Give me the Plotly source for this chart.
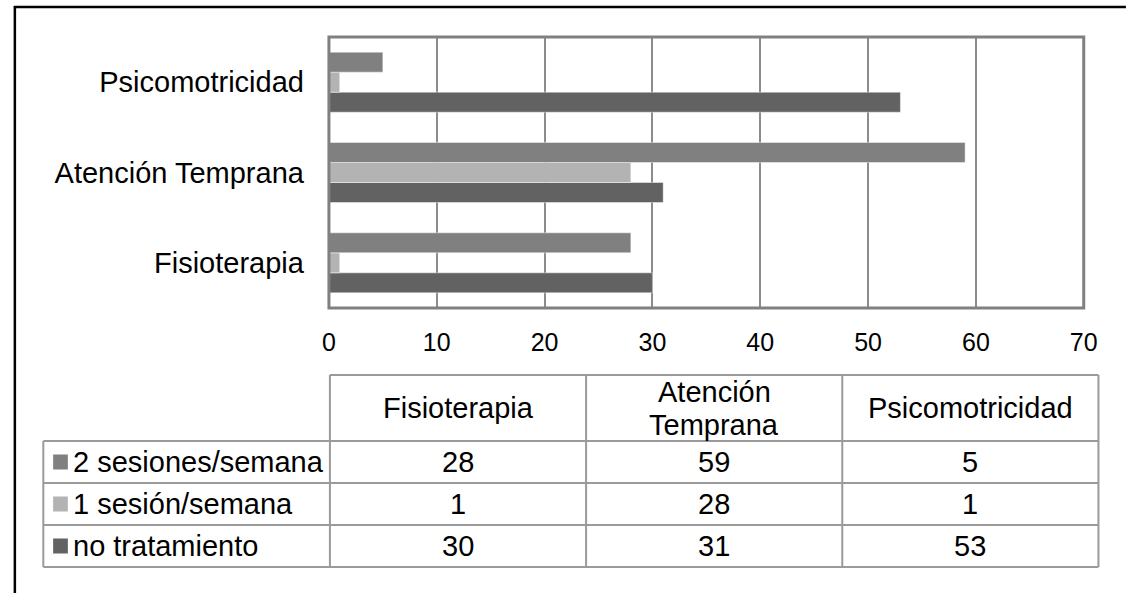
import plotly.graph_objects as go

# Data
categories = ["Fisioterapia", "Atención Temprana", "Psicomotricidad"]
header_labels = ["Fisioterapia", "Atención<br>Temprana", "Psicomotricidad"]
series_names = ["2 sesiones/semana", "1 sesión/semana", "no tratamiento"]
dos_sesiones = [28, 59, 5]
una_sesion = [1, 28, 1]
no_tratamiento = [30, 31, 53]
series_values = [dos_sesiones, una_sesion, no_tratamiento]
series_colors = ["#808080", "#b3b3b3", "#626262"]
x_ticks = [0, 10, 20, 30, 40, 50, 60, 70]

W, H = 1136, 593
FONT = "Liberation Sans, Arial, sans-serif"


def fx(p):
    return p / W


def fy(p):
    return 1 - p / H


fig = go.Figure()

# Bars drawn bottom-up inside each group so the order reads
# 2 sesiones / 1 sesión / no tratamiento from top to bottom.
for name, vals, col in reversed(list(zip(series_names, series_values, series_colors))):
    fig.add_trace(go.Bar(
        y=categories, x=vals, name=name, orientation="h",
        marker=dict(color=col, line=dict(color="rgba(255,255,255,0.45)", width=1)),
        showlegend=False, hoverinfo="x+name",
    ))

shapes = []
annotations = []

# plot frame
shapes.append(dict(type="rect", xref="x domain", yref="y domain", x0=0, x1=1, y0=0, y1=1,
                   line=dict(color="#808080", width=3), layer="above"))

# outer chart border (left and top edges)
shapes.append(dict(type="line", xref="paper", yref="paper", x0=fx(8), x1=fx(8), y0=fy(6), y1=fy(600),
                   line=dict(color="#000000", width=2.5)))
shapes.append(dict(type="line", xref="paper", yref="paper", x0=fx(7), x1=fx(1140), y0=fy(7), y1=fy(7),
                   line=dict(color="#000000", width=2.5)))

# Data table beneath the plot
tbl_left, tbl_col0, tbl_right = 37, 329, 1112
tbl_top, head_bot, row_h = 375, 441, 42
n_cols = len(categories)
col_w = (tbl_right - tbl_col0) / n_cols
col_edges = [tbl_col0 + i * col_w for i in range(n_cols + 1)]
row_edges = [head_bot + i * row_h for i in range(len(series_names) + 1)]
tbl_bot = row_edges[-1]
line_style = dict(color="#9a9a9a", width=2)


def pline(x0, y0, x1, y1):
    shapes.append(dict(type="line", xref="paper", yref="paper", x0=fx(x0), x1=fx(x1),
                       y0=fy(y0), y1=fy(y1), line=line_style))


# header row border
pline(tbl_col0, tbl_top, tbl_right, tbl_top)
for xe in col_edges:
    pline(xe, tbl_top, xe, tbl_bot)
# body rows
for ye in row_edges:
    pline(tbl_left, ye, tbl_right, ye)
pline(tbl_left, head_bot, tbl_left, tbl_bot)

txt_font = dict(family=FONT, size=29, color="#000000")

# header text (multi-line labels split into stacked lines)
head_mid = (tbl_top + head_bot) / 2
line_pitch = 33
for i, lab in enumerate(header_labels):
    cx = (col_edges[i] + col_edges[i + 1]) / 2
    parts = lab.split("<br>")
    for k, part in enumerate(parts):
        cy = head_mid + (k - (len(parts) - 1) / 2) * line_pitch
        annotations.append(dict(xref="paper", yref="paper", x=fx(cx), y=fy(cy),
                                text=part, showarrow=False, font=txt_font,
                                xanchor="center", yanchor="middle"))

# series rows with legend keys and values
for r, (name, vals, col) in enumerate(zip(series_names, series_values, series_colors)):
    cy = (row_edges[r] + row_edges[r + 1]) / 2
    shapes.append(dict(type="rect", xref="paper", yref="paper", x0=fx(47), x1=fx(62),
                       y0=fy(cy - 7.5), y1=fy(cy + 7.5), fillcolor=col, line=dict(width=0)))
    annotations.append(dict(xref="paper", yref="paper", x=fx(65), y=fy(cy), text=name,
                            showarrow=False, font=txt_font, xanchor="left", yanchor="middle"))
    for i, v in enumerate(vals):
        cx = (col_edges[i] + col_edges[i + 1]) / 2
        annotations.append(dict(xref="paper", yref="paper", x=fx(cx), y=fy(cy), text=str(v),
                                showarrow=False, font=txt_font, xanchor="center", yanchor="middle"))

fig.update_layout(
    width=W, height=H,
    margin=dict(l=0, r=0, t=0, b=0),
    paper_bgcolor="#ffffff", plot_bgcolor="#ffffff",
    barmode="group", bargap=0.335, bargroupgap=0,
    font=dict(family=FONT, color="#000000"),
    xaxis=dict(domain=[fx(328), fx(1097)], range=[0, 70], tickvals=x_ticks,
               showgrid=True, gridcolor="#8c8c8c", gridwidth=2, zeroline=False,
               showline=False, ticks="", tickfont=dict(size=25), ticklabelstandoff=17,
               fixedrange=True),
    yaxis=dict(domain=[fy(308), fy(37)], type="category", categoryorder="array",
               categoryarray=categories, showgrid=False, zeroline=False, showline=False,
               ticks="", tickfont=dict(size=29), ticklabelstandoff=24, fixedrange=True),
    shapes=shapes, annotations=annotations,
)

fig.write_html("out.html")
